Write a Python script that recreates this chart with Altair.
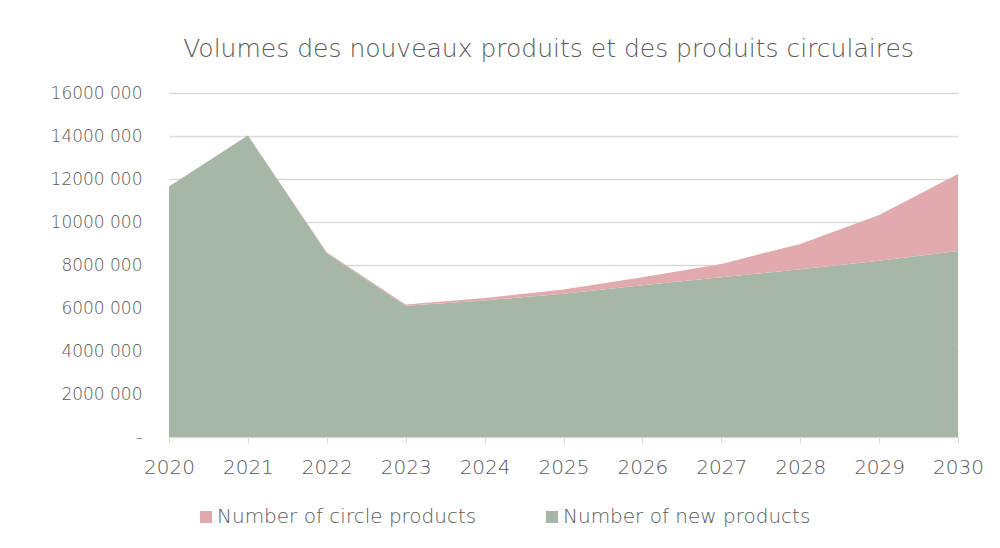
import altair as alt
import pandas as pd

years = [2020, 2021, 2022, 2023, 2024, 2025, 2026, 2027, 2028, 2029, 2030]
new_products = [11650000, 14020000, 8550000, 6110000, 6350000, 6660000, 7060000, 7430000, 7800000, 8200000, 8650000]
circle_products = [0, 20000, 40000, 50000, 120000, 200000, 370000, 620000, 1180000, 2130000, 3580000]
series_names = ["Number of circle products", "Number of new products"]
series_colors = ["#E1ABAD", "#A6B7A7"]
y_ticks = [0, 2000000, 4000000, 6000000, 8000000, 10000000, 12000000, 14000000, 16000000]

rows = []
for i, yr in enumerate(years):
    rows.append({"year": yr, "series": series_names[1], "value": new_products[i], "ord": 0})
    rows.append({"year": yr, "series": series_names[0], "value": circle_products[i], "ord": 1})
df = pd.DataFrame(rows)

FONT = "DejaVu Sans"
W = 300
GREY = "#595959"

chart = alt.Chart(df).mark_area(opacity=1).encode(
    x=alt.X("year:Q",
            scale=alt.Scale(domain=[2020, 2030], nice=False, zero=False),
            axis=alt.Axis(values=years, format="d", title=None, grid=False,
                          domainColor="#d9d9d9", tickColor="#d9d9d9", tickSize=6,
                          labelFlush=False, labelOverlap=False,
                          labelPadding=14, labelFontSize=20, labelColor=GREY,
                          labelFont=FONT, labelFontWeight=W)),
    y=alt.Y("value:Q", stack="zero",
            scale=alt.Scale(domain=[0, 16000000], nice=False),
            axis=alt.Axis(values=y_ticks, title=None, domain=False, ticks=False,
                          gridColor="#d9d9d9", gridWidth=1.5,
                          labelExpr="datum.value == 0 ? '-' : floor(datum.value / 1000) + ' 000'",
                          labelPadding=27, labelFontSize=17, labelColor=GREY,
                          labelFont=FONT, labelFontWeight=W,
                          minExtent=161, maxExtent=161)),
    color=alt.Color("series:N",
                    scale=alt.Scale(domain=series_names, range=series_colors),
                    legend=alt.Legend(title=None, orient="none", direction="horizontal",
                                      legendX=27, legendY=414,
                                      symbolType="square", symbolSize=144, symbolStrokeWidth=0,
                                      labelFontSize=20, labelColor=GREY, labelFont=FONT,
                                      labelFontWeight=W, labelLimit=0, labelOffset=1,
                                      columnPadding=65)),
    order=alt.Order("ord:Q", sort="ascending"),
).properties(
    width=789,
    height=344,
    padding={"left": 0, "top": 29, "right": 4, "bottom": 0},
    title=alt.Title("Volumes des nouveaux produits et des produits circulaires",
                    fontSize=25, font=FONT, fontWeight=W, color=GREY,
                    anchor="middle", offset=22, dx=-15),
).configure_view(stroke=None)

chart.save("out.html", embed_options={"renderer": "svg", "actions": False})
